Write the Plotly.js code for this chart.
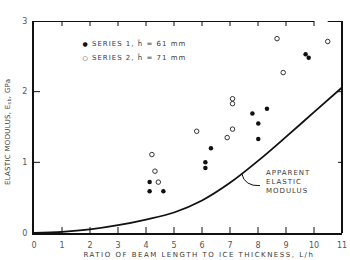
<!DOCTYPE html>
<html><head><meta charset="utf-8">
<script src="https://cdn.plot.ly/plotly-3.0.1.min.js"></script>
<style>
html,body{margin:0;padding:0;background:#fff;}
#chart .annotation-text{letter-spacing:1px;}
#chart .annotation[data-index="0"] .annotation-text{letter-spacing:1.5px;}
#chart .annotation[data-index="1"] .annotation-text{letter-spacing:0.3px;}
</style>
</head><body>
<div id="chart" style="width:350px;height:260px;"></div>
<script>
// Series 1 (filled), h = 61 mm
const series1X = [4.13, 4.13, 4.62, 6.12, 6.12, 6.32, 7.80, 8.01, 8.01, 8.32, 9.70, 9.81];
const series1Y = [0.72, 0.59, 0.59, 1.00, 0.92, 1.20, 1.69, 1.55, 1.33, 1.76, 2.53, 2.48];
// Series 2 (open), h = 71 mm
const series2X = [4.21, 4.32, 4.44, 5.81, 6.90, 7.09, 7.09, 7.09, 8.68, 8.90, 10.37, 10.37, 10.49];
const series2Y = [1.11, 0.875, 0.72, 1.44, 1.35, 1.47, 1.83, 1.90, 2.75, 2.27, 3.24, 3.14, 2.71];
// Apparent elastic modulus curve
const curveX = [0, 1, 2, 3, 4, 5, 6, 7, 8, 9, 10, 11];
const curveY = [0, 0.015, 0.05, 0.11, 0.19, 0.29, 0.46, 0.71, 1.02, 1.36, 1.71, 2.06];
const xTicks = [0, 1, 2, 3, 4, 5, 6, 7, 8, 9, 10, 11];
const yTicks = [0, 1, 2, 3];
const legendLabels = ['SERIES 1, h\u0304 = 61 mm', 'SERIES 2, h\u0304 = 71 mm'];

const ink = '#111';
const txt = '#3a3a3a';
const F = 'DejaVu Sans';

const traces = [
  {x: curveX, y: curveY, mode: 'lines', line: {color: ink, width: 1.8, shape: 'spline', smoothing: 1}, hoverinfo: 'skip', showlegend: false},
  {x: series1X, y: series1Y, mode: 'markers', marker: {symbol: 'circle', size: 4.5, color: ink}, cliponaxis: false, showlegend: false},
  {x: series2X, y: series2Y, mode: 'markers', marker: {symbol: 'circle-open', size: 4.5, color: '#333', line: {width: 1}}, cliponaxis: false, showlegend: false}
];

// inward tick marks of the frame (bottom/top at inner x ticks, left/right at inner y ticks)
const innerX = xTicks.slice(1, -1);
const innerY = yTicks.slice(1, -1);
const tickShapes = [];
innerX.forEach(v => {
  tickShapes.push({type: 'line', xref: 'x', yref: 'paper', x0: v, x1: v, y0: 0, y1: 6 / 212, line: {color: ink, width: 1}});
  tickShapes.push({type: 'line', xref: 'x', yref: 'paper', x0: v, x1: v, y0: 1, y1: 1 - 5 / 212, line: {color: ink, width: 1}});
});
innerY.forEach(v => {
  tickShapes.push({type: 'line', xref: 'paper', yref: 'y', x0: 0, x1: 6 / 308, y0: v, y1: v, line: {color: ink, width: 1}});
  tickShapes.push({type: 'line', xref: 'paper', yref: 'y', x0: 1, x1: 1 - 4 / 308, y0: v, y1: v, line: {color: ink, width: 1}});
});

const layout = {
  width: 350, height: 260,
  margin: {l: 34, r: 8, t: 21, b: 27},
  paper_bgcolor: '#fff', plot_bgcolor: '#fff',
  showlegend: false,
  xaxis: {range: [0, 11], tickvals: xTicks, ticktext: xTicks.map(String), ticks: '', ticklabelstandoff: 3,
    showline: true, linewidth: 2, linecolor: ink, showgrid: false, zeroline: false,
    tickfont: {family: F, size: 8, color: '#555'}},
  yaxis: {range: [0, 3], tickvals: yTicks, ticktext: yTicks.map(String), ticks: '', ticklabelstandoff: 3,
    showline: true, linewidth: 2, linecolor: ink, showgrid: false, zeroline: false,
    tickfont: {family: F, size: 8, color: '#555'}},
  yaxis2: {range: [0, 3], overlaying: 'y', side: 'right', showticklabels: false, ticks: '',
    showline: true, linewidth: 2, linecolor: ink, showgrid: false, zeroline: false},
  shapes: [
    {type: 'line', xref: 'x', yref: 'y', x0: 0, x1: 10, y0: 3, y1: 3, line: {color: ink, width: 2}},
    {type: 'line', xref: 'x', yref: 'y', x0: 10.49, x1: 11, y0: 3, y1: 3, line: {color: ink, width: 2}},
    {type: 'line', xref: 'paper', yref: 'paper', x0: 1, x1: 1, y0: 0, y1: 1, line: {color: ink, width: 2}},
    {type: 'path', xref: 'x', yref: 'y', path: 'M 8.07 0.67 Q 7.52 0.66 7.42 0.84', line: {color: ink, width: 1}}
  ].concat(tickShapes),
  annotations: [
    {xref: 'paper', yref: 'paper', x: (199 - 34) / 308, y: -0.104, xanchor: 'center', yanchor: 'middle', showarrow: false,
      text: 'RATIO OF BEAM LENGTH TO ICE THICKNESS, L/h', font: {family: F, size: 7, color: txt}},
    {xref: 'paper', yref: 'paper', x: (8 - 34) / 308, y: 0.475, xanchor: 'center', yanchor: 'middle', showarrow: false, textangle: -90,
      text: 'ELASTIC MODULUS, E<sub>sb</sub>, GPa', font: {family: F, size: 7, color: txt}},
    {xref: 'x', yref: 'y', x: 8.21, y: 0.72, xanchor: 'left', yanchor: 'middle', align: 'left', showarrow: false,
      text: 'APPARENT<br>ELASTIC<br>MODULUS', font: {family: F, size: 7, color: txt}},
    {xref: 'x', yref: 'y', x: 2.02, y: 2.68, xanchor: 'left', yanchor: 'middle', showarrow: false,
      text: '<span style="font-size:6px;color:#111">\u25CF</span> ' + legendLabels[0], font: {family: F, size: 7, color: txt}},
    {xref: 'x', yref: 'y', x: 2.02, y: 2.48, xanchor: 'left', yanchor: 'middle', showarrow: false,
      text: '<span style="font-size:6px;color:#111">\u25CB</span> ' + legendLabels[1], font: {family: F, size: 7, color: txt}}
  ]
};

Plotly.newPlot('chart', traces, layout, {staticPlot: true, displayModeBar: false});
</script>
</body></html>
